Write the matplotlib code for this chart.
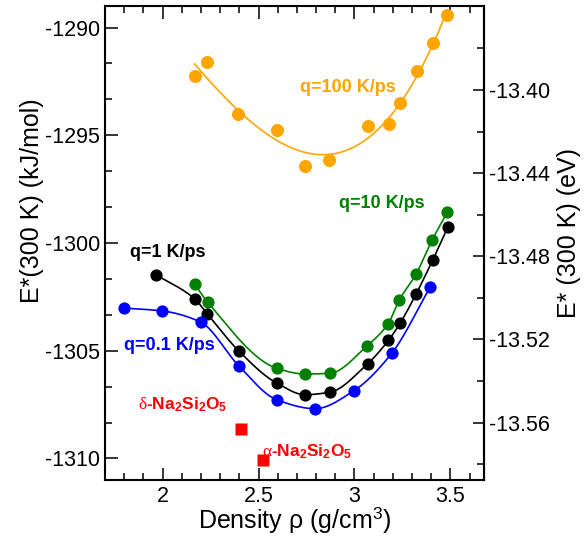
import numpy as np
import matplotlib
matplotlib.use('Agg')
import matplotlib.pyplot as plt
from matplotlib.ticker import MultipleLocator, FixedLocator, FormatStrFormatter

plt.rcParams['font.family'] = ['Liberation Sans', 'DejaVu Sans']
plt.rcParams['axes.unicode_minus'] = False
plt.rcParams['mathtext.fontset'] = 'custom'
plt.rcParams['mathtext.rm'] = 'Liberation Serif'
plt.rcParams['mathtext.it'] = 'Liberation Serif:italic'
plt.rcParams['mathtext.bf'] = 'Liberation Sans:bold'
plt.rcParams['mathtext.sf'] = 'Liberation Sans'

KJ_TO_EV = 1.0 / 96.485

# ── Data: energy (kJ/mol) vs density (g/cm^3) per quench rate ────────────────
rho_q100 = [2.167, 2.233, 2.392, 2.594, 2.741, 2.868, 3.069, 3.179, 3.236, 3.326, 3.411, 3.481]
e_q100   = [-1292.27, -1291.60, -1294.00, -1294.75, -1296.42, -1296.13,
            -1294.57, -1294.48, -1293.52, -1292.02, -1290.73, -1289.40]

rho_q10 = [2.167, 2.236, 2.597, 2.740, 2.870, 3.066, 3.175, 3.234, 3.321, 3.405, 3.483]
e_q10   = [-1301.91, -1302.76, -1305.82, -1306.08, -1306.05, -1304.77,
           -1303.75, -1302.64, -1301.44, -1299.86, -1298.58]

rho_q1 = [1.967, 2.167, 2.233, 2.396, 2.594, 2.743, 2.870, 3.069, 3.177, 3.238, 3.321, 3.408, 3.486]
e_q1   = [-1301.48, -1302.59, -1303.29, -1305.00, -1306.50, -1307.04, -1306.93,
          -1305.60, -1304.52, -1303.72, -1302.37, -1300.79, -1299.27]

rho_q01 = [1.798, 1.996, 2.198, 2.396, 2.594, 2.795, 2.995, 3.194, 3.396]
e_q01   = [-1303.02, -1303.15, -1303.67, -1305.69, -1307.27, -1307.69,
           -1306.87, -1305.12, -1302.02]

# crystalline references
rho_xtal = [2.410, 2.522]
e_xtal   = [-1308.61, -1310.08]


def pchip(x, y, xf):
    """Shape-preserving cubic Hermite curve through (x, y), evaluated at xf."""
    x, y = np.asarray(x, float), np.asarray(y, float)
    h = np.diff(x)
    d = np.diff(y) / h
    m = np.zeros_like(y)
    for k in range(1, len(x) - 1):
        if d[k - 1] * d[k] > 0:
            w1 = 2 * h[k] + h[k - 1]
            w2 = h[k] + 2 * h[k - 1]
            m[k] = (w1 + w2) / (w1 / d[k - 1] + w2 / d[k])
    m[0] = d[0]
    m[-1] = d[-1]
    idx = np.clip(np.searchsorted(x, xf) - 1, 0, len(h) - 1)
    t = (xf - x[idx]) / h[idx]
    h00 = 2 * t**3 - 3 * t**2 + 1
    h10 = t**3 - 2 * t**2 + t
    h01 = -2 * t**3 + 3 * t**2
    h11 = t**3 - t**2
    return (h00 * y[idx] + h10 * h[idx] * m[idx]
            + h01 * y[idx + 1] + h11 * h[idx] * m[idx + 1])


fig = plt.figure(figsize=(5.85, 5.47), dpi=100)
ax = fig.add_axes([0.1795, 0.1225, 0.6475, 0.8665])

# q=100 K/ps: scattered, drawn with a cubic fit
x = np.asarray(rho_q100)
xf = np.linspace(x.min(), x.max(), 300)
ax.plot(xf, np.polyval(np.polyfit(x, e_q100, 3), xf), color='orange', lw=1.2, zorder=2)
ax.plot(x, e_q100, 'o', color='orange', ms=9.4, mec='none', zorder=3)

for x, y, col in [(rho_q10, e_q10, 'green'), (rho_q1, e_q1, 'black'),
                  (rho_q01, e_q01, 'blue')]:
    xf = np.linspace(min(x), max(x), 300)
    ax.plot(xf, pchip(x, y, xf), color=col, lw=1.2, zorder=2)
    ax.plot(x, y, 'o', color=col, ms=8.8, mec='none', zorder=3)

ax.plot(rho_xtal, e_xtal, 's', color='red', ms=8, mec='none', zorder=3)

lab_kw = dict(fontsize=13, fontweight='bold', va='center')
ax.text(2.714, -1292.78, 'q=100 K/ps', color='orange', **lab_kw)
ax.text(2.917, -1298.15, 'q=10 K/ps', color='green', **lab_kw)
ax.text(1.828, -1300.46, 'q=1 K/ps', color='black', **lab_kw)
ax.text(1.800, -1304.77, 'q=0.1 K/ps', color='blue', **lab_kw)
ax.text(1.870, -1307.5, r'$\mathrm{\delta}$-Na$_\mathbf{2}$Si$_\mathbf{2}$O$_\mathbf{5}$',
        color='red', fontsize=12.5, fontweight='bold', va='center')
ax.text(2.516, -1309.68, r'$\mathrm{\alpha}$-Na$_\mathbf{2}$Si$_\mathbf{2}$O$_\mathbf{5}$',
        color='red', fontsize=12.5, fontweight='bold', va='center')

ax.set_xlim(1.7, 3.674)
ax.set_ylim(-1311, -1289)
ax.xaxis.set_major_locator(MultipleLocator(0.5))
ax.xaxis.set_minor_locator(MultipleLocator(0.1))
ax.xaxis.set_major_formatter(FormatStrFormatter('%g'))
ax.yaxis.set_major_locator(MultipleLocator(5))
ax.yaxis.set_minor_locator(MultipleLocator(5 / 3))
ax.yaxis.set_major_formatter(FormatStrFormatter('%g'))
ax.tick_params(which='both', direction='in', top=True, right=False,
               labelsize=15.5, width=1.1)
ax.tick_params(which='major', length=9)
ax.tick_params(which='minor', length=5)
ax.tick_params(axis='x', pad=4)
for s in ax.spines.values():
    s.set_linewidth(1.5)

ax.set_xlabel(r'Density ρ (g/cm$^\mathsf{3}$)', fontsize=18)
ax.xaxis.set_label_coords(0.501, -0.052)
ax.set_ylabel('E*(300 K) (kJ/mol)', fontsize=18)
ax.yaxis.set_label_coords(-0.162, 0.589)

sec = ax.secondary_yaxis('right', functions=(lambda v: v * KJ_TO_EV,
                                             lambda v: v / KJ_TO_EV))
sec.yaxis.set_major_locator(FixedLocator([-13.40, -13.44, -13.48, -13.52, -13.56]))
sec.yaxis.set_minor_locator(FixedLocator([-13.38, -13.42, -13.46, -13.50, -13.54, -13.58]))
sec.yaxis.set_major_formatter(FormatStrFormatter('%.2f'))
sec.tick_params(which='both', direction='in', labelsize=15.5, width=1.1)
sec.tick_params(which='major', length=8)
sec.tick_params(which='minor', length=5)
sec.spines['right'].set_linewidth(1.5)
sec.set_ylabel('E* (300 K) (eV)', fontsize=18)
sec.yaxis.set_label_coords(0.952, 0.574, transform=fig.transFigure)

fig.savefig('out.png', dpi=100)
